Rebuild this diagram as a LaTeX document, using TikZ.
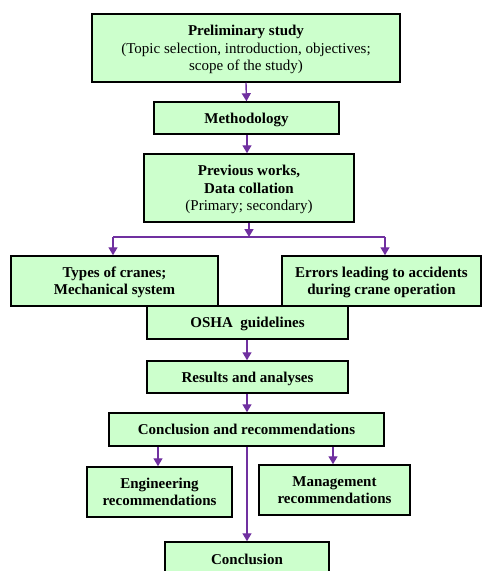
\documentclass[tikz,border=0pt]{standalone}
\usepackage{fontspec}
\setmainfont{Liberation Serif}
\usetikzlibrary{arrows.meta}
\definecolor{boxfill}{HTML}{CCFFCC}
\definecolor{arrowpurple}{HTML}{7030A0}
\begin{document}
\begin{tikzpicture}[x=1pt,y=-1pt,
  flowbox/.style={draw=black,line width=1.5pt,fill=boxfill,inner sep=1pt,align=center,
    font=\fontsize{15}{17.3}\selectfont\bfseries,anchor=center,text depth=-1pt},
  flowarrow/.style={draw=arrowpurple,line width=1.4pt,-{Triangle[length=8pt,width=9pt]}},
  flowline/.style={draw=arrowpurple,line width=1.4pt}]
\useasboundingbox (0,0) rectangle (483,571);
\node[flowbox,minimum width=308pt,minimum height=68pt] (prelim) at (246,48)
  {Preliminary study\\{\mdseries (Topic selection, introduction, objectives;}\\{\mdseries scope of the study)}};
\node[flowbox,minimum width=185pt,minimum height=32pt] (method) at (246.5,118) {Methodology};
\node[flowbox,minimum width=210pt,minimum height=68pt] (prev) at (249,188)
  {Previous works,\\Data collation\\{\mdseries (Primary; secondary)}};
\node[flowbox,minimum width=207pt,minimum height=50pt] (types) at (114.5,281)
  {Types of cranes;\\Mechanical system};
\node[flowbox,minimum width=199pt,minimum height=50pt] (errors) at (381.5,281)
  {Errors leading to accidents\\during crane operation};
\node[flowbox,minimum width=201pt,minimum height=33pt] (osha) at (247.5,322.5) {OSHA\ \ guidelines};
\node[flowbox,minimum width=201pt,minimum height=32pt] (results) at (247.5,377) {Results and analyses};
\node[flowbox,minimum width=275pt,minimum height=33pt] (concrec) at (246.5,429.5) {Conclusion and recommendations};
\node[flowbox,minimum width=145pt,minimum height=50pt] (eng) at (159.5,492)
  {Engineering\\recommendations};
\node[flowbox,minimum width=151pt,minimum height=50pt] (mgmt) at (334.5,490)
  {Management\\recommendations};
\node[flowbox,minimum width=164pt,minimum height=34pt] (concl) at (247,559) {Conclusion};
\coordinate (split) at (249,237);
\coordinate (splitL) at (113,237);
\coordinate (splitR) at (385,237);
\draw[flowarrow] (prelim.south) -- (method.north);
\draw[flowarrow] (method.south -| 247,0) -- (prev.north -| 247,0);
\draw[flowarrow] (prev.south) -- (split);
\draw[flowline] (splitL) -- (splitR);
\draw[flowarrow] (splitL) -- (types.north -| splitL);
\draw[flowarrow] (splitR) -- (errors.north -| splitR);
\draw[flowarrow] (osha.south -| 247,0) -- (results.north -| 247,0);
\draw[flowarrow] (results.south -| 247,0) -- (concrec.north -| 247,0);
\draw[flowarrow] (concrec.south -| 158,0) -- (eng.north -| 158,0);
\draw[flowarrow] (concrec.south -| 333,0) -- (mgmt.north -| 333,0);
\draw[flowarrow] (concrec.south -| 247,0) -- (concl.north -| 247,0);
\end{tikzpicture}
\end{document}
